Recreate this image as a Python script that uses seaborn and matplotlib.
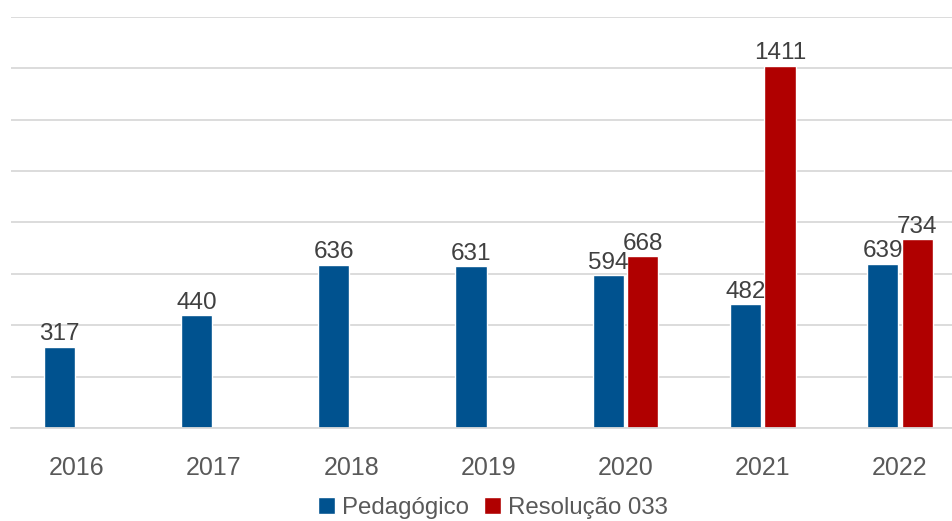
import matplotlib
matplotlib.use("Agg")
import matplotlib.pyplot as plt
import seaborn as sns
import pandas as pd
import numpy as np

# data
years = ["2016", "2017", "2018", "2019", "2020", "2021", "2022"]
pedagogico = [317, 440, 636, 631, 594, 482, 639]
resolucao = [np.nan, np.nan, np.nan, np.nan, 668, 1411, 734]
series = ["Pedagógico", "Resolução 033"]
colors = ["#00528F", "#B00000"]

df = pd.DataFrame({
    "ano": years * 2,
    "valor": pedagogico + resolucao,
    "serie": [series[0]] * len(years) + [series[1]] * len(years),
})

sns.set_style("white")
plt.rcParams["font.family"] = ["Liberation Sans", "DejaVu Sans"]

fig = plt.figure(figsize=(9.52, 5.21), dpi=100)
ax = fig.add_axes([11 / 952, 93 / 521, 941 / 952, 411 / 521])

sns.barplot(data=df, x="ano", y="valor", hue="serie", palette=colors,
            saturation=1, width=0.505, gap=0.1, ax=ax, legend=True)

# the original is cropped on the right, so the last slot is cut off
ax.set_xlim(-0.48, 6.38)
ax.set_ylim(0, 1600)
ax.set_yticks(range(0, 1601, 200))
ax.yaxis.grid(True, color="#D9D9D9", linewidth=1.3)
ax.set_axisbelow(True)
ax.tick_params(axis="y", left=False, labelleft=False)
ax.tick_params(axis="x", bottom=False, labelsize=18, colors="#595959", pad=17)
for s in ["top", "right", "left"]:
    ax.spines[s].set_visible(False)
ax.spines["bottom"].set_color("#D9D9D9")
ax.spines["bottom"].set_linewidth(1.3)
ax.set_xlabel("")
ax.set_ylabel("")

for cont in ax.containers:
    labels = ["" if np.isnan(v) else f"{int(v)}" for v in cont.datavalues]
    ax.bar_label(cont, labels=labels, fontsize=17.5, color="#404040", padding=1)

handles, labs = ax.get_legend_handles_labels()
ax.legend(handles, labs, loc="lower center", bbox_to_anchor=(482 / 941, -0.245),
          ncol=2, frameon=False, fontsize=17.3, handlelength=0.7, handleheight=0.7,
          handletextpad=0.3, columnspacing=0.6, labelcolor="#595959",
          borderaxespad=0)

fig.savefig("out.png", dpi=100)
